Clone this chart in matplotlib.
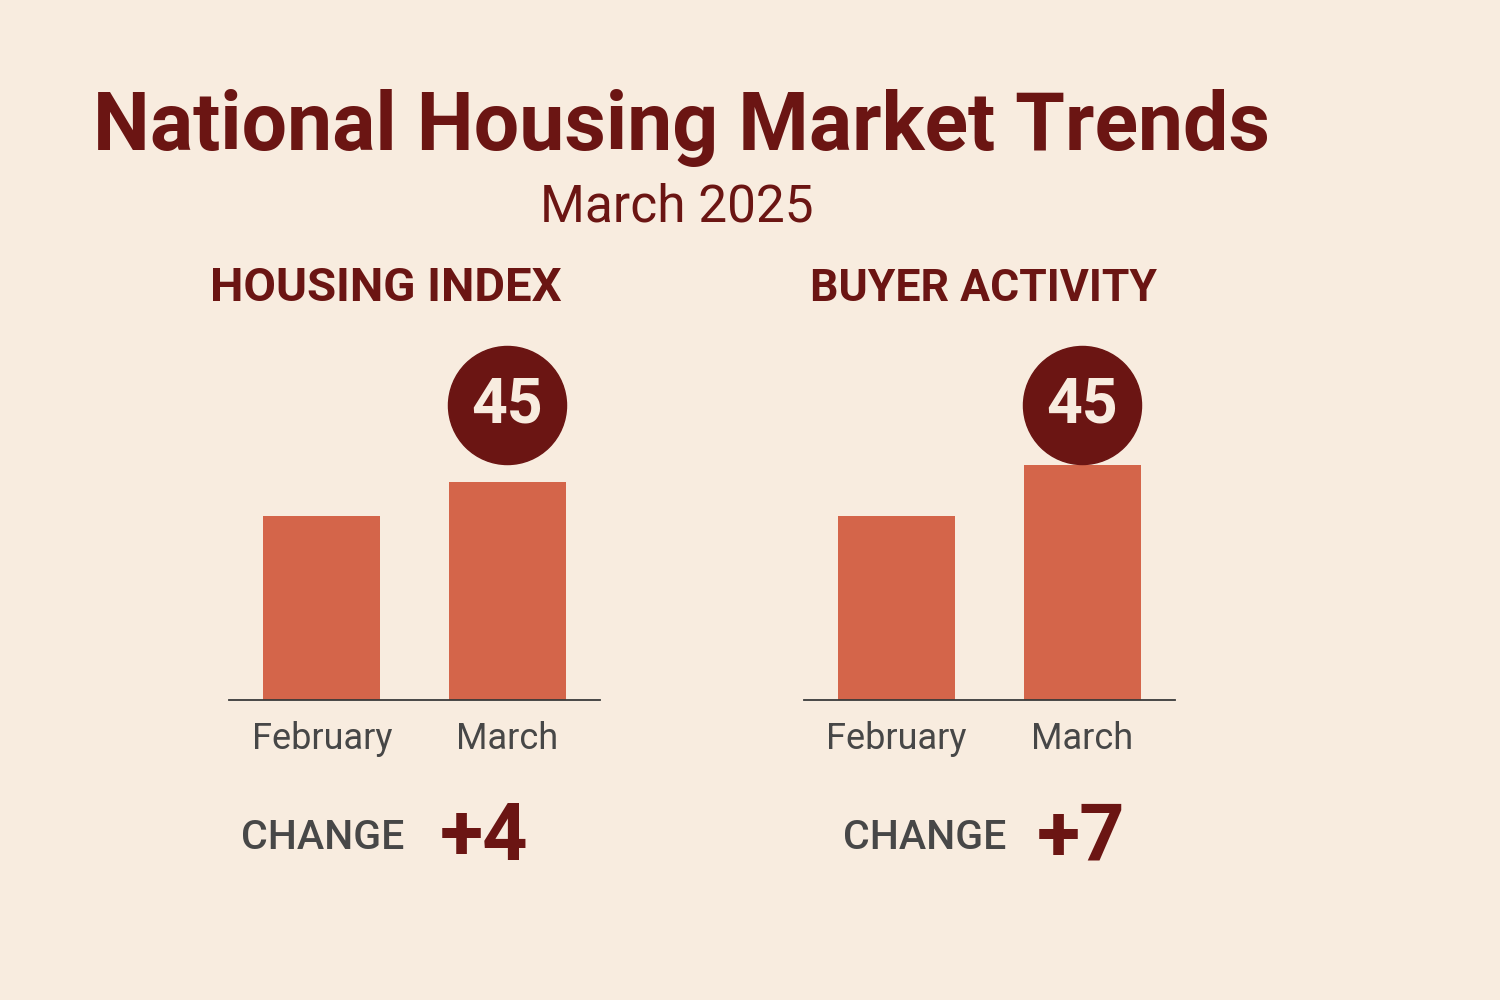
import matplotlib
matplotlib.use("Agg")
import matplotlib.pyplot as plt

# colours
bg_color = "#F8ECDF"
dark_red = "#6B1513"
bar_color = "#D4654A"
gray_text = "#474747"

plt.rcParams['font.family'] = ['Roboto', 'DejaVu Sans']

# data
title = "National Housing Market Trends"
subtitle = "March 2025"
months = ["February", "March"]
panel_names = ["HOUSING INDEX", "BUYER ACTIVITY"]
housing_index = [41, 45]
buyer_activity = [38, 45]

# per-panel y ranges (the picture does not start bars at zero)
panel_ylims = [(19.35, 61.7), (12.75, 62.16)]

fig = plt.figure(figsize=(15, 10), dpi=100)
fig.patch.set_facecolor(bg_color)

fig.text(0.062, 0.85, title, fontsize=58, fontweight='bold', color=dark_red,
         ha='left', va='baseline')
fig.text(0.4513, 0.779, subtitle, fontsize=37, color=dark_red,
         ha='center', va='baseline')

axes_left = [0.1527, 0.536]
header_x = [0.2573, 0.6557]
header_size = [34, 32]
change_x = [0.1607, 0.562]
delta_x = [0.2933, 0.6913]

for i, values in enumerate([housing_index, buyer_activity]):
    ax = fig.add_axes([axes_left[i], 0.30, 0.2473, 0.36])
    ax.set_facecolor(bg_color)
    ax.bar(range(len(months)), values, width=0.63, color=bar_color, zorder=2)
    ax.set_xlim(-0.5, 1.5)
    ax.set_ylim(*panel_ylims[i])

    for side in ['top', 'right', 'left']:
        ax.spines[side].set_visible(False)
    ax.spines['bottom'].set_color("#3a3a3a")
    ax.spines['bottom'].set_linewidth(1.3)
    ax.set_yticks([])
    ax.set_xticks(range(len(months)))
    ax.set_xticklabels(months, fontsize=26, color=gray_text)
    ax.tick_params(axis='x', length=0, pad=15)

    # badge with the latest value
    ax.scatter([1], [0.819], s=85 ** 2, color=dark_red, zorder=4,
               transform=ax.get_xaxis_transform(), clip_on=False)
    ax.text(1, 0.819, str(values[-1]), transform=ax.get_xaxis_transform(),
            fontsize=45, fontweight='bold', color="#F8ECDF",
            ha='center', va='center', zorder=5)

    fig.text(header_x[i], 0.699, panel_names[i], fontsize=header_size[i], fontweight='bold',
             color=dark_red, ha='center', va='baseline')

    change = values[1] - values[0]
    fig.text(change_x[i], 0.151, "CHANGE", fontsize=29.5, fontweight='medium',
             color=gray_text, ha='left', va='baseline')
    fig.text(delta_x[i], 0.14, f"+{change}", fontsize=57, fontweight='bold',
             color=dark_red, ha='left', va='baseline')

fig.savefig("out.png", dpi=100, facecolor=bg_color)
